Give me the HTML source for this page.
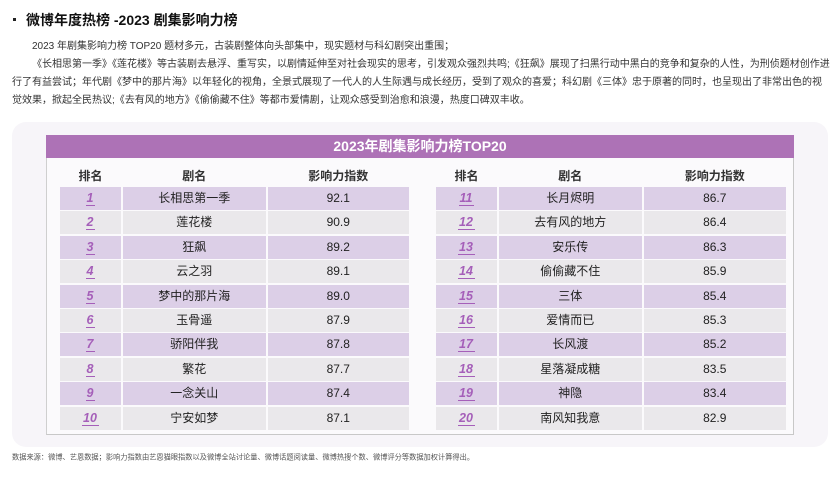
<!DOCTYPE html>
<html><head><meta charset="utf-8">
<style>
*{margin:0;padding:0;box-sizing:border-box}
html,body{width:836px;height:478px;background:#fff;overflow:hidden}
body{position:relative;font-family:"Liberation Sans","Noto Sans CJK SC",sans-serif;color:#222}
.abs{position:absolute}
.title{left:26px;top:9px;height:22px;line-height:22px;font-size:14px;font-weight:bold;color:#111;white-space:nowrap}
.dot{left:13px;top:18px;width:2.5px;height:2.5px;background:#222}
.p{font-size:10px;color:#333;white-space:nowrap;height:18px;line-height:18px}
.outer{left:12px;top:122px;width:816px;height:325px;border-radius:14px;background:#f7f5f9}
.panel{left:46px;top:135px;width:748px;height:300px;background:#fbfafc;border-left:1px solid #cfcfcf;border-right:1.5px solid #c8c8c8;border-bottom:1.5px solid #c8c8c8}
.bar{left:46px;top:135px;width:748px;height:23px;background:#ad72b6;color:#fff;font-weight:bold;font-size:14px;line-height:23px;text-align:center}
.hd{top:166px;height:20px;line-height:20px;font-size:12px;font-weight:bold;color:#333;text-align:center}
.c{height:23px;line-height:23px;font-size:12px;text-align:center;color:#222;white-space:nowrap}
.o{background:#dccfe7}
.e{background:#eae8eb}
.r{font-size:12.5px;font-weight:bold;font-style:italic;color:#a55fb9}
.r span{display:inline-block;line-height:13px;border-bottom:1.2px solid #a55fb9;padding:0 2px 0 1px}
.foot{left:12px;top:453px;font-size:10px;color:#555;white-space:nowrap;transform:scale(0.722);transform-origin:left top;line-height:14px}
</style></head><body>
<div class="abs dot"></div>
<div class="abs title">微博年度热榜 -2023 剧集影响力榜</div>
<div class="abs p" style="left:32px;top:37.5px">2023 年剧集影响力榜 TOP20 题材多元，古装剧整体向头部集中，现实题材与科幻剧突出重围；</div>
<div class="abs p" style="left:32px;top:55.5px">《长相思第一季》《莲花楼》等古装剧去悬浮、重写实，以剧情延伸至对社会现实的思考，引发观众强烈共鸣;《狂飙》展现了扫黑行动中黑白的竞争和复杂的人性，为刑侦题材创作进</div>
<div class="abs p" style="left:12px;top:73.5px">行了有益尝试；年代剧《梦中的那片海》以年轻化的视角，全景式展现了一代人的人生际遇与成长经历，受到了观众的喜爱；科幻剧《三体》忠于原著的同时，也呈现出了非常出色的视</div>
<div class="abs p" style="left:12px;top:91.5px">觉效果，掀起全民热议;《去有风的地方》《偷偷藏不住》等都市爱情剧，让观众感受到治愈和浪漫，热度口碑双丰收。</div>

<div class="abs outer"></div>
<div class="abs panel"></div>
<div class="abs bar">2023年剧集影响力榜TOP20</div>

<div class="abs hd" style="left:60px;width:61px">排名</div>
<div class="abs hd" style="left:122.5px;width:143.5px">剧名</div>
<div class="abs hd" style="left:267.5px;width:141.5px">影响力指数</div>
<div class="abs hd" style="left:436px;width:61px">排名</div>
<div class="abs hd" style="left:498.5px;width:143.5px">剧名</div>
<div class="abs hd" style="left:643.5px;width:142.5px">影响力指数</div>

<!-- rows -->
<div class="abs c o r" style="left:60px;width:61px;top:187px"><span>1</span></div>
<div class="abs c o" style="left:122.5px;width:143.5px;top:187px">长相思第一季</div>
<div class="abs c o" style="left:267.5px;width:141.5px;top:187px">92.1</div>
<div class="abs c o r" style="left:436px;width:61px;top:187px"><span>11</span></div>
<div class="abs c o" style="left:498.5px;width:143.5px;top:187px">长月烬明</div>
<div class="abs c o" style="left:643.5px;width:142.5px;top:187px">86.7</div>

<div class="abs c e r" style="left:60px;width:61px;top:211.4px"><span>2</span></div>
<div class="abs c e" style="left:122.5px;width:143.5px;top:211.4px">莲花楼</div>
<div class="abs c e" style="left:267.5px;width:141.5px;top:211.4px">90.9</div>
<div class="abs c e r" style="left:436px;width:61px;top:211.4px"><span>12</span></div>
<div class="abs c e" style="left:498.5px;width:143.5px;top:211.4px">去有风的地方</div>
<div class="abs c e" style="left:643.5px;width:142.5px;top:211.4px">86.4</div>

<div class="abs c o r" style="left:60px;width:61px;top:235.8px"><span>3</span></div>
<div class="abs c o" style="left:122.5px;width:143.5px;top:235.8px">狂飙</div>
<div class="abs c o" style="left:267.5px;width:141.5px;top:235.8px">89.2</div>
<div class="abs c o r" style="left:436px;width:61px;top:235.8px"><span>13</span></div>
<div class="abs c o" style="left:498.5px;width:143.5px;top:235.8px">安乐传</div>
<div class="abs c o" style="left:643.5px;width:142.5px;top:235.8px">86.3</div>

<div class="abs c e r" style="left:60px;width:61px;top:260.2px"><span>4</span></div>
<div class="abs c e" style="left:122.5px;width:143.5px;top:260.2px">云之羽</div>
<div class="abs c e" style="left:267.5px;width:141.5px;top:260.2px">89.1</div>
<div class="abs c e r" style="left:436px;width:61px;top:260.2px"><span>14</span></div>
<div class="abs c e" style="left:498.5px;width:143.5px;top:260.2px">偷偷藏不住</div>
<div class="abs c e" style="left:643.5px;width:142.5px;top:260.2px">85.9</div>

<div class="abs c o r" style="left:60px;width:61px;top:284.6px"><span>5</span></div>
<div class="abs c o" style="left:122.5px;width:143.5px;top:284.6px">梦中的那片海</div>
<div class="abs c o" style="left:267.5px;width:141.5px;top:284.6px">89.0</div>
<div class="abs c o r" style="left:436px;width:61px;top:284.6px"><span>15</span></div>
<div class="abs c o" style="left:498.5px;width:143.5px;top:284.6px">三体</div>
<div class="abs c o" style="left:643.5px;width:142.5px;top:284.6px">85.4</div>

<div class="abs c e r" style="left:60px;width:61px;top:309px"><span>6</span></div>
<div class="abs c e" style="left:122.5px;width:143.5px;top:309px">玉骨遥</div>
<div class="abs c e" style="left:267.5px;width:141.5px;top:309px">87.9</div>
<div class="abs c e r" style="left:436px;width:61px;top:309px"><span>16</span></div>
<div class="abs c e" style="left:498.5px;width:143.5px;top:309px">爱情而已</div>
<div class="abs c e" style="left:643.5px;width:142.5px;top:309px">85.3</div>

<div class="abs c o r" style="left:60px;width:61px;top:333.4px"><span>7</span></div>
<div class="abs c o" style="left:122.5px;width:143.5px;top:333.4px">骄阳伴我</div>
<div class="abs c o" style="left:267.5px;width:141.5px;top:333.4px">87.8</div>
<div class="abs c o r" style="left:436px;width:61px;top:333.4px"><span>17</span></div>
<div class="abs c o" style="left:498.5px;width:143.5px;top:333.4px">长风渡</div>
<div class="abs c o" style="left:643.5px;width:142.5px;top:333.4px">85.2</div>

<div class="abs c e r" style="left:60px;width:61px;top:357.8px"><span>8</span></div>
<div class="abs c e" style="left:122.5px;width:143.5px;top:357.8px">繁花</div>
<div class="abs c e" style="left:267.5px;width:141.5px;top:357.8px">87.7</div>
<div class="abs c e r" style="left:436px;width:61px;top:357.8px"><span>18</span></div>
<div class="abs c e" style="left:498.5px;width:143.5px;top:357.8px">星落凝成糖</div>
<div class="abs c e" style="left:643.5px;width:142.5px;top:357.8px">83.5</div>

<div class="abs c o r" style="left:60px;width:61px;top:382.2px"><span>9</span></div>
<div class="abs c o" style="left:122.5px;width:143.5px;top:382.2px">一念关山</div>
<div class="abs c o" style="left:267.5px;width:141.5px;top:382.2px">87.4</div>
<div class="abs c o r" style="left:436px;width:61px;top:382.2px"><span>19</span></div>
<div class="abs c o" style="left:498.5px;width:143.5px;top:382.2px">神隐</div>
<div class="abs c o" style="left:643.5px;width:142.5px;top:382.2px">83.4</div>

<div class="abs c e r" style="left:60px;width:61px;top:406.6px"><span>10</span></div>
<div class="abs c e" style="left:122.5px;width:143.5px;top:406.6px">宁安如梦</div>
<div class="abs c e" style="left:267.5px;width:141.5px;top:406.6px">87.1</div>
<div class="abs c e r" style="left:436px;width:61px;top:406.6px"><span>20</span></div>
<div class="abs c e" style="left:498.5px;width:143.5px;top:406.6px">南风知我意</div>
<div class="abs c e" style="left:643.5px;width:142.5px;top:406.6px">82.9</div>

<div class="abs foot">数据来源：微博、艺恩数据；影响力指数由艺恩猫眼指数以及微博全站讨论量、微博话题阅读量、微博热搜个数、微博评分等数据加权计算得出。</div>
</body></html>
